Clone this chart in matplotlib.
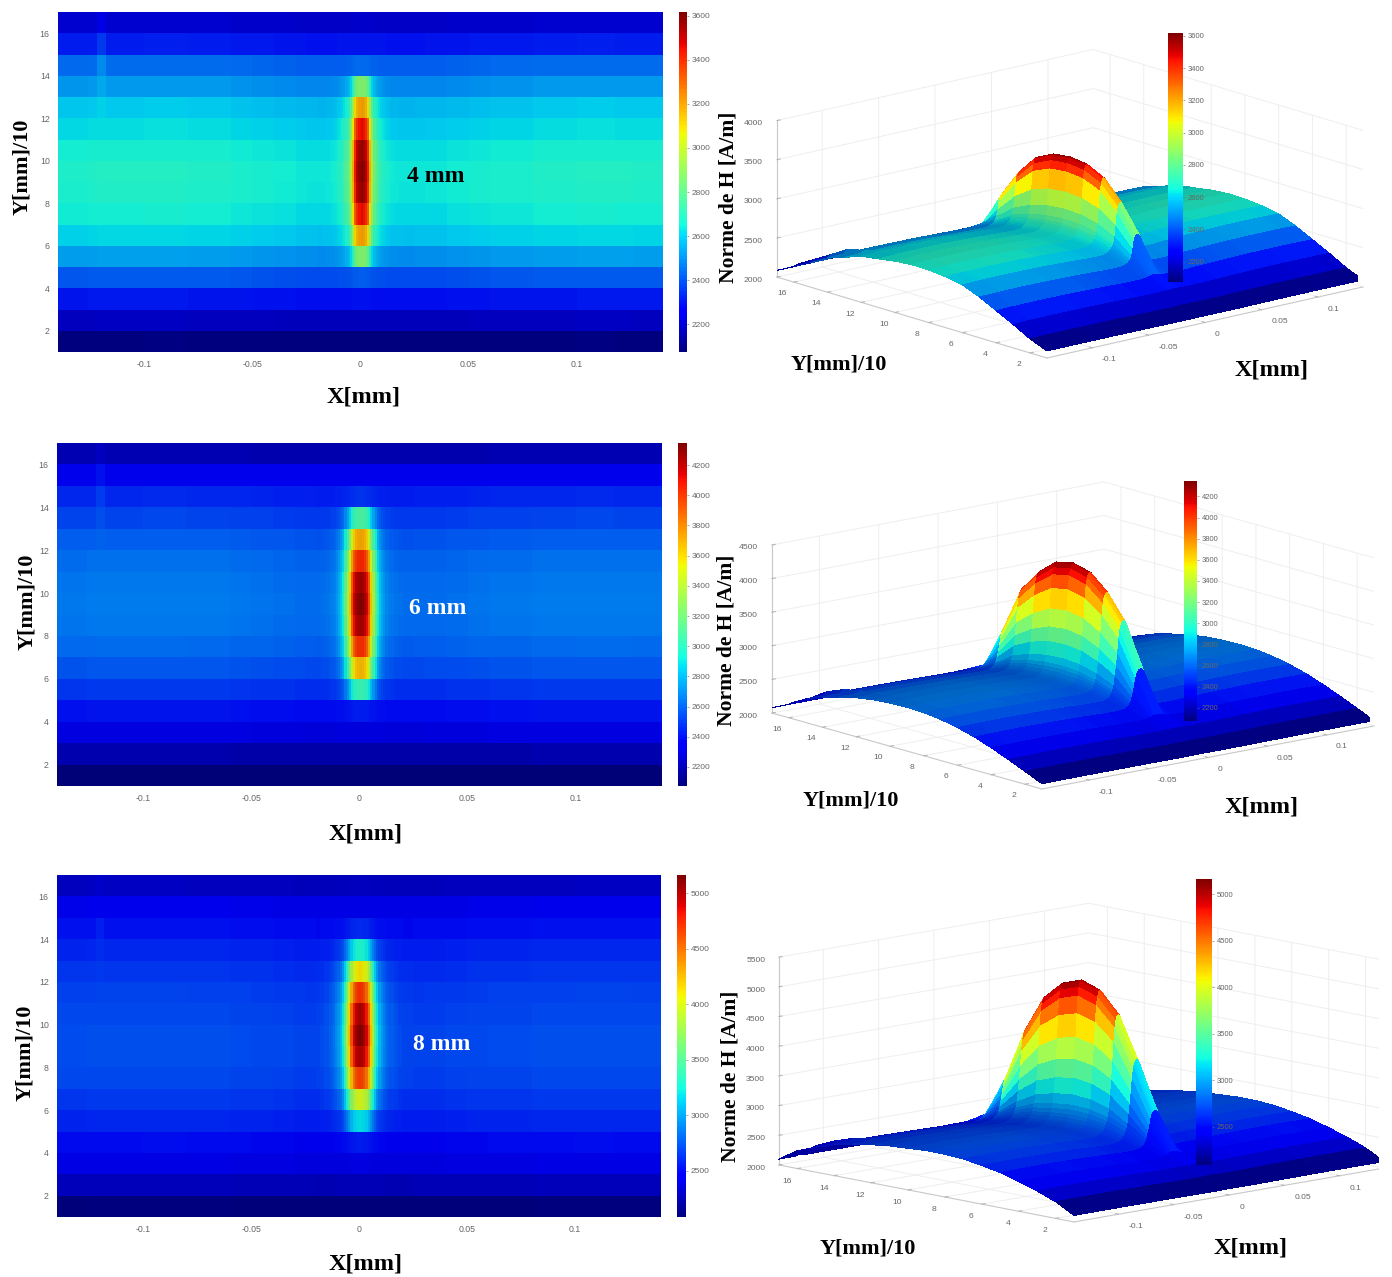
import numpy as np
import matplotlib
matplotlib.use("Agg")
import matplotlib.pyplot as plt
from matplotlib.colors import Normalize, ListedColormap
from matplotlib.patches import Rectangle
from matplotlib import cm
from mpl_toolkits.mplot3d import proj3d

W, H = 1392, 1277

y_nodes = np.arange(1, 18)
half_x = [0, .001, .002, .003, .004, .005, .006, .007, .008, .009, .01, .011, .012, .013, .014,
          .016, .018, .02, .025, .03, .04, .05, .06, .08, .1, .118, .122, .126, .14]
# values far from the crack, per y node (1..17)
base_4 = [2090, 2180, 2300, 2410, 2520, 2610, 2650, 2670, 2675, 2655, 2620, 2590, 2510, 2440, 2310, 2200, 2085]
base_6 = [2080, 2190, 2300, 2400, 2490, 2560, 2610, 2640, 2650, 2640, 2620, 2580, 2520, 2450, 2350, 2200, 2080]
base_8 = [2110, 2280, 2400, 2500, 2590, 2650, 2700, 2720, 2720, 2700, 2680, 2640, 2590, 2520, 2420, 2300, 2100]
# values on the crack line
peak_4 = [2090, 2180, 2300, 2430, 2880, 3230, 3480, 3590, 3618, 3590, 3480, 3230, 2880, 2450, 2310, 2200, 2085]
peak_6 = [2080, 2190, 2300, 2440, 3050, 3700, 4050, 4280, 4346, 4290, 4070, 3750, 3100, 2490, 2350, 2200, 2080]
peak_8 = [2110, 2280, 2400, 2570, 3200, 4000, 4700, 5050, 5162, 5050, 4750, 4150, 3300, 2620, 2420, 2300, 2100]
# crack profile across x, 1 on the line
shape_4 = [1, .98, .93, .82, .55, .33, .2, .14, .1, .07, .05, .035, .025, .015, .01,
           .005, .002, 0, 0, 0, 0, 0, 0, 0, 0, 0, 0, 0, 0]
shape_6 = [1, .99, .96, .9, .78, .6, .44, .31, .19, .13, .09, .06, .04, .03, .02,
           .01, .005, 0, 0, 0, 0, 0, 0, 0, 0, 0, 0, 0, 0]
shape_8 = [1, .99, .96, .9, .78, .62, .47, .34, .23, .16, .12, .09, .07, .05, .04,
           .025, .012, .005, 0, 0, 0, 0, 0, 0, 0, 0, 0, 0, 0]
drift = [-20, -20, -20, -20, -20, -25, -25, -25, -30, -30, -30, -30, -35, -35, -35,
         -35, -35, -35, -32, -30, -20, -12, -5, 5, 10, 8, 8, 6, 0]
stripe = [0, 0, 0, 0, 0, 0, 0, 0, 0, 0, 0, 10, 25, 45, 45, 30, 20]
# how bright the lit surface looks along y
surf_light = [1, 1, .97, .94, .9, .87, .83, .8, .77, .75, .73, .72, .72, .72, .72, .75, .8]

labels = ["4 mm", "6 mm", "8 mm"]
label_colors = ["black", "white", "white"]
bases = [base_4, base_6, base_8]
peaks = [peak_4, peak_6, peak_8]
shapes = [shape_4, shape_6, shape_8]
vmins = [2073, 2074, 2086]
vmaxs = [3618, 4346, 5162]
cbar_ticks = [list(range(2200, 3601, 200)), list(range(2200, 4201, 200)), list(range(2500, 5001, 500))]
z_tops = [4000, 4500, 5500]
x_ticks = [-0.1, -0.05, 0, 0.05, 0.1]
x_ticklabels = ["-0.1", "-0.05", "0", "0.05", "0.1"]
y_ticks = list(range(2, 17, 2))

# layout, in pixels
heat_boxes = [(58, 12, 663, 352), (57, 443, 662, 786), (57, 875, 661, 1217)]
heat_cbars = [(679, 12, 687, 352), (678, 443, 687, 786), (677, 875, 686, 1217)]
surf_cbars = [(1168, 33, 1183, 282), (1184, 481, 1197, 721), (1196, 879, 1212, 1165)]
views = [(15.05, -130.9), (13.37, -129.4), (10.56, -133.5)]
aspects = [(418, 412, 162), (429.5, 425, 172.7), (427.6, 429, 211.6)]
corners = [((777, 277), (1047, 358), (1363, 287)),
           ((772, 713), (1042, 789), (1374, 726)),
           ((779, 1165), (1074, 1222), (1384, 1168))]
heat_xlabels = [(364, 397), (366, 834), (366, 1264)]
heat_ylabels = [(22, 167), (27, 602), (25, 1053)]
mm_labels = [(436, 176), (438, 608), (442, 1044)]
surf_ylabels = [(839, 365), (851, 800), (868, 1249)]
surf_xlabels = [(1272, 370), (1262, 807), (1251, 1248)]
surf_zlabels = [(729, 197), (727, 640), (731, 1076)]

plt.rcParams["font.family"] = ["Liberation Sans", "DejaVu Sans"]
GREY = "#666666"
SERIF = {"family": "Liberation Serif", "weight": "bold"}

fig = plt.figure(figsize=(W / 100, H / 100), dpi=100)

# the map panels are a little duller than pure jet
dull_jet = cm.jet(np.linspace(0, 1, 256))
dull_jet[:, :3] *= 0.93
dull_jet = ListedColormap(dull_jet)


def px_axes(box, **kw):
    l, t, r, b = box
    return fig.add_axes([l / W, 1 - b / H, (r - l) / W, (b - t) / H], **kw)


def px_text(pos, s, size=17.5, color="black", rotation=0):
    fig.text(pos[0] / W, 1 - pos[1] / H, s, ha="center", va="center", fontsize=size,
             color=color, rotation=rotation, **SERIF)


def fit_3d(ax, targets, z0):
    # move the square 3d axes so its floor corners land on the wanted pixels
    targets = np.array([(x, H - y) for x, y in targets], float)
    for _ in range(3):
        ax.apply_aspect()
        M = ax.get_proj()
        pts = []
        for x, y in [(-0.14, 17), (-0.14, 1), (0.14, 1)]:
            px, py, _z = proj3d.proj_transform(x, y, z0, M)
            pts.append(ax.transData.transform((px, py)))
        pts = np.array(pts)
        ratio = np.linalg.norm(targets[2] - targets[0]) / np.linalg.norm(pts[2] - pts[0])
        pos = ax.get_position()
        c = np.array([(pos.x0 + pos.width / 2) * W, (pos.y0 + pos.height / 2) * H])
        new_c = targets.mean(axis=0) - ratio * (pts.mean(axis=0) - c)
        s = pos.width * W * ratio
        ax.set_position([(new_c[0] - s / 2) / W, (new_c[1] - s / 2) / H, s / W, s / H])


def add_cbar(mappable, box, ticks, size):
    cax = px_axes(box)
    cb = fig.colorbar(mappable, cax=cax)
    cb.set_ticks(ticks)
    cb.outline.set_visible(False)
    cax.tick_params(labelsize=size, length=1.5, width=0.4, pad=2, colors=GREY)
    return cb


half = np.array(half_x)
x_nodes = np.concatenate([-half[:0:-1], half])
stripe_col = int(np.argmin(np.abs(x_nodes + 0.122)))

for i in range(3):
    norm = Normalize(vmins[i], vmaxs[i])
    shape = np.array(shapes[i])
    shape = np.concatenate([shape[:0:-1], shape])
    dr = np.array(drift)
    dr = np.concatenate([dr[:0:-1], dr])
    base = np.array(bases[i], float)
    peak = np.array(peaks[i], float)
    # drift weight keeps the outer rows flat
    Z = base[:, None] + (peak - base)[:, None] * shape[None, :] + dr[None, :] * (base[:, None] - 2000) / 700
    Z[:, stripe_col] += np.array(stripe)

    # map view
    ax = px_axes(heat_boxes[i])
    mesh = ax.pcolormesh(x_nodes, y_nodes, Z[:-1, :-1], cmap=dull_jet, norm=norm, shading="flat",
                         antialiased=False, linewidth=0, rasterized=True)
    ax.set_xlim(-0.14, 0.14)
    ax.set_ylim(1, 17)
    ax.set_xticks(x_ticks, x_ticklabels)
    ax.set_yticks(y_ticks)
    ax.tick_params(labelsize=6.3, length=0, pad=6, colors=GREY)
    for sp in ax.spines.values():
        sp.set_visible(False)
    add_cbar(cm.ScalarMappable(norm=norm, cmap="jet"), heat_cbars[i], cbar_ticks[i], 6)
    px_text(heat_xlabels[i], "X[mm]")
    px_text(heat_ylabels[i], "Y[mm]/10", size=16, rotation=90)
    px_text(mm_labels[i], labels[i], size=17, color=label_colors[i])

    # surface view
    ax3 = fig.add_axes([0.5, 0.1, 0.5, 0.5 * W / H], projection="3d", proj_type="ortho")
    ax3.set_facecolor("none")
    X, Y = np.meshgrid(x_nodes, y_nodes)
    colors = cm.jet(norm(Z))
    light = 1 - (1 - np.array(surf_light))[:, None] * (1 - np.clip(shape[None, :] * 2, 0, 1))
    colors[..., :3] *= light[..., None]
    ax3.plot_surface(X, Y, Z, facecolors=colors, rstride=1, cstride=1, shade=False,
                     antialiased=False, linewidth=0)
    ax3.set_xlim(-0.14, 0.14)
    ax3.set_ylim(1, 17)
    ax3.set_zlim(2000, z_tops[i])
    ax3.set_xticks(x_ticks, x_ticklabels, ha="left")
    ax3.set_yticks(y_ticks)
    ax3.set_zticks(list(range(2000, z_tops[i] + 1, 500)))
    ax3.tick_params(labelsize=6.1, labelcolor=GREY, color="#b5b5b5", width=0.5, pad=0)
    ax3.tick_params(axis="z", pad=1)
    ax3.view_init(elev=views[i][0], azim=views[i][1])
    ax3.set_box_aspect(aspects[i])
    for axis in (ax3.xaxis, ax3.yaxis, ax3.zaxis):
        axis.set_pane_color((1, 1, 1, 0))
        axis.pane.set_edgecolor("#eeeeee")
        axis.line.set_color("#c8c8c8")
        axis.line.set_linewidth(0.8)
        axis._axinfo["grid"]["color"] = "#eeeeee"
        axis._axinfo["grid"]["linewidth"] = 0.7
        axis._axinfo["tick"]["inward_factor"] = 0.0
        axis._axinfo["tick"]["outward_factor"] = 0.12
    fit_3d(ax3, corners[i], 2000)

    sm = cm.ScalarMappable(norm=norm, cmap="jet")
    add_cbar(sm, surf_cbars[i], cbar_ticks[i], 5.5)
    px_text(surf_ylabels[i], "Y[mm]/10", size=16)
    px_text(surf_xlabels[i], "X[mm]")
    px_text(surf_zlabels[i], "Norme de H [A/m]", size=15.5, rotation=90)

# the source picture is cut off at the right
fig.add_artist(Rectangle((1379 / W, 0), 13 / W, 1, transform=fig.transFigure,
                         facecolor="white", edgecolor="none", zorder=20))

fig.savefig("out.png", dpi=100)
